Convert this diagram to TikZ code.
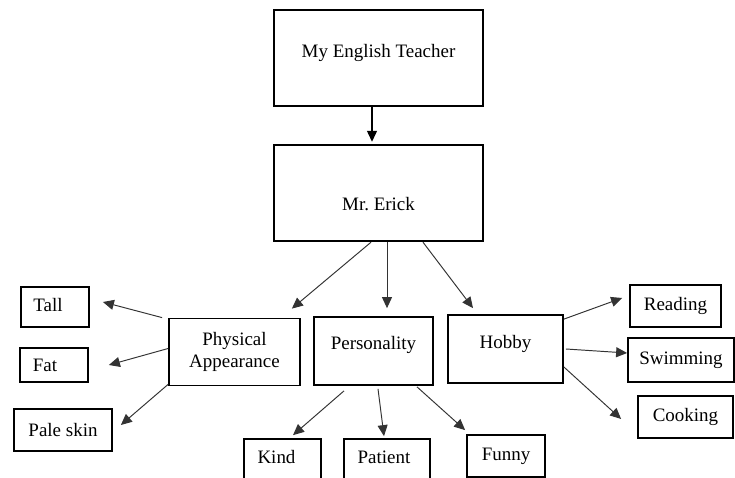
\documentclass[tikz,border=0pt]{standalone}
\usepackage{fontspec}
\setmainfont{Liberation Serif}
\usetikzlibrary{arrows.meta}

\tikzset{
  box/.style={draw,line width=1pt,inner sep=0pt},
  bigbox/.style={box,line width=1.4pt},
  arr/.style={line width=0.55pt,black!80,-{Triangle[length=0.22cm,width=0.2cm]}}
}

\begin{document}
\begin{tikzpicture}[x=1cm,y=1cm,font=\fontsize{10.8}{13}\selectfont]
  \useasboundingbox (0,0) rectangle (14.7,9.56);
  \clip (0,0) rectangle (14.7,9.56);
  \node[bigbox,minimum width=4.18cm,minimum height=1.92cm,
    label={[yshift=0.1cm]center:My English Teacher}] (teacher) at (7.57,8.40) {};
  \node[bigbox,minimum width=4.18cm,minimum height=1.92cm,
    label={[yshift=-0.22cm]center:Mr.\ Erick}] (erick) at (7.57,5.70) {};
  \draw[line width=0.8pt,-{Triangle[length=0.22cm,width=0.2cm]},shorten >=0.04cm]
    ([xshift=-0.13cm]teacher.south) -- ([xshift=-0.13cm]erick.north);

  \node[box,minimum width=2.62cm,minimum height=1.34cm,align=center] (phys) at (4.69,2.52) {Physical\\Appearance};
  \node[box,minimum width=2.38cm,minimum height=1.36cm,
    label={[yshift=0.12cm]center:Personality}] (pers) at (7.47,2.54) {};
  \node[box,minimum width=2.30cm,minimum height=1.36cm,
    label={[yshift=0.10cm]center:Hobby}] (hobby) at (10.11,2.58) {};

  \node[box,minimum width=1.36cm,minimum height=0.80cm,
    label={[xshift=-0.14cm,yshift=0.04cm]center:Tall}] (tall) at (1.10,3.42) {};
  \node[box,minimum width=1.36cm,minimum height=0.68cm,
    label={[xshift=-0.18cm]center:Fat}] (fat) at (1.08,2.26) {};
  \node[box,minimum width=1.96cm,minimum height=0.84cm] (pale) at (1.26,0.96) {Pale skin};

  \node[box,minimum width=1.54cm,minimum height=0.86cm,
    label={[xshift=-0.12cm,yshift=0.07cm]center:Kind}] (kind) at (5.65,0.35) {};
  \node[box,minimum width=1.72cm,minimum height=0.86cm,
    label={[xshift=-0.06cm,yshift=0.07cm]center:Patient}] (patient) at (7.74,0.35) {};
  \node[box,minimum width=1.56cm,minimum height=0.84cm] (funny) at (10.12,0.44) {Funny};

  \node[box,minimum width=1.82cm,minimum height=0.84cm] (reading) at (13.51,3.44) {Reading};
  \node[box,minimum width=2.12cm,minimum height=0.88cm] (swimming) at (13.62,2.36) {Swimming};
  \node[box,minimum width=1.90cm,minimum height=0.84cm] (cooking) at (13.71,1.22) {Cooking};

  \draw[arr] ([xshift=-0.15cm]erick.south) -- ([xshift=-0.18cm,yshift=0.18cm]phys.north east);
  \draw[arr] ([xshift=0.17cm]erick.south) -- ([xshift=0.27cm,yshift=0.16cm]pers.north);
  \draw[arr] ([xshift=0.89cm]erick.south) -- ([xshift=-0.65cm,yshift=0.12cm]hobby.north);

  \draw[arr] ([xshift=-0.12cm]phys.north west) -- ([xshift=0.26cm,yshift=0.10cm]tall.east);
  \draw[arr] ([yshift=0.07cm]phys.west) -- ([xshift=0.40cm]fat.east);
  \draw[arr] ([yshift=0.04cm]phys.south west) -- ([xshift=0.16cm,yshift=0.10cm]pale.east);

  \draw[arr] ([xshift=-0.59cm,yshift=-0.10cm]pers.south) -- ([xshift=0.21cm,yshift=0.06cm]kind.north);
  \draw[arr] ([xshift=0.09cm,yshift=-0.06cm]pers.south) -- ([xshift=-0.06cm,yshift=0.04cm]patient.north);
  \draw[arr] ([xshift=0.87cm,yshift=-0.02cm]pers.south) -- ([xshift=-0.02cm,yshift=0.08cm]funny.north west);

  \draw[arr] ([yshift=-0.10cm]hobby.north east) -- ([xshift=-0.14cm,yshift=0.16cm]reading.west);
  \draw[arr] ([xshift=0.04cm]hobby.east) -- ([yshift=0.14cm]swimming.west);
  \draw[arr] ([yshift=-0.36cm]hobby.east) -- ([xshift=-0.32cm,yshift=-0.04cm]cooking.west);
\end{tikzpicture}
\end{document}
